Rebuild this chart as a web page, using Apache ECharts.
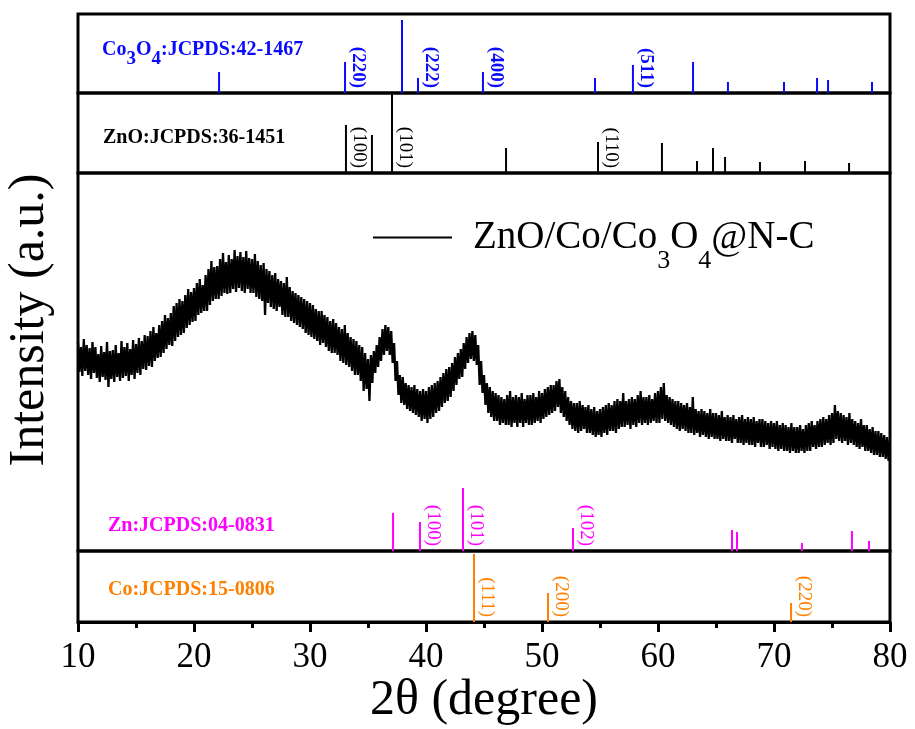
<!DOCTYPE html>
<html>
<head>
<meta charset="utf-8">
<script src="https://cdn.jsdelivr.net/npm/echarts@6/dist/echarts.min.js"></script>
<style>html,body{margin:0;padding:0;background:#fff}#c{width:915px;height:729px}</style>
</head>
<body>
<div id="c"></div>
<script>
// ---- data ----
// measured pattern, one value every 0.125° from 10° to 80°
const X_START = 10, X_STEP = 0.125;
const intensity = [
209,179,204,175,212,180,206,176, 203,172,209,178,204,173,197,169,
205,174,199,171,209,164,200,172, 201,169,206,174,198,170,210,173,
204,175,208,170,202,176,211,172, 207,178,213,176,210,182,216,181,
215,185,220,184,224,190,218,193, 226,194,230,198,236,202,233,206,
238,205,245,210,248,214,252,216, 250,218,256,223,262,226,259,229,
263,230,268,236,272,238,266,240, 276,240,282,246,290,250,284,252,
285,252,292,255,298,258,289,257, 296,258,292,262,301,259,295,263,
299,260,294,258,300,262,293,258, 292,258,297,254,290,252,286,250,
288,236,282,248,280,244,276,242, 278,240,272,244,270,236,268,234,
274,234,264,230,260,228,258,226, 256,224,254,222,252,218,250,216,
248,214,246,212,242,210,240,206, 240,208,236,204,234,200,230,198,
232,198,228,196,224,190,222,188, 226,186,218,184,214,180,212,176,
210,176,206,170,204,160,198,162, 192,150,196,168,200,178,206,184,
214,190,222,196,226,200,224,196, 220,188,208,170,190,156,176,148,
174,146,168,142,166,140,164,138, 166,136,162,134,160,130,162,132,
160,128,164,132,166,134,168,138, 170,140,174,144,178,148,182,150,
184,154,188,160,194,166,198,172, 202,174,208,182,214,188,218,192,
220,190,216,186,206,166,190,158, 176,146,168,138,164,134,160,130,
158,130,156,126,154,128,152,126, 156,126,160,124,154,128,156,124,
154,128,158,124,152,128,156,126, 156,126,158,128,154,130,160,128,
158,132,162,134,164,136,166,138, 166,140,170,144,172,138,164,134,
160,130,154,126,150,122,148,120, 148,118,150,120,146,122,144,118,
146,118,142,116,144,114,140,116, 142,114,144,118,146,116,148,120,
146,120,150,118,152,122,150,124, 158,124,150,126,152,122,154,126,
152,124,156,128,160,126,154,128, 154,126,156,128,152,130,158,128,
160,128,164,132,168,130,156,128, 154,126,152,124,150,122,150,120,
148,122,146,120,148,118,144,118, 154,116,142,118,140,114,142,116,
140,114,138,112,142,114,138,112, 138,112,136,110,140,112,134,110,
136,110,134,108,136,112,132,108, 134,108,136,106,132,108,134,106,
132,106,134,104,130,108,132,104, 132,104,130,106,128,102,130,104,
128,102,130,100,126,102,128,100, 126,100,124,98,128,100,124,98,
124,98,126,100,122,98,126,100, 128,100,130,104,126,102,130,104,
132,104,134,106,132,108,136,106, 138,108,146,112,140,110,138,108,
136,110,134,106,138,108,132,106, 130,104,128,102,132,104,126,100,
126,100,122,98,124,96,120,96, 120,94,118,94,116,92,114,90,
112
];
const sampleName = 'ZnO/Co/Co3O4@N-C';

// reference sticks: [2θ, relative height]
const co3o4Peaks = [[22.16,21],[33.02,31],[37.93,73],[39.31,15],[44.91,21],[54.57,15],[57.84,28],[63.02,31],[66.03,11],[70.86,11],[73.71,15],[74.66,13],[78.45,11]];
const znoPeaks   = [[33.10,48],[35.34,38],[37.07,79],[46.90,25],[54.83,31],[60.34,30],[63.36,12],[64.74,25],[65.78,16],[68.79,11],[72.67,12],[76.47,10]];
const znPeaks    = [[37.16,38],[39.48,29],[43.19,63],[52.67,23],[66.38,21],[66.81,19],[72.41,8],[76.72,20],[78.19,10]];
const coPeaks    = [[44.14,68],[50.52,29],[71.47,19]];

// hkl labels: [index of stick, text]
const co3o4Hkl = [[1,'(220)'],[3,'(222)'],[4,'(400)'],[6,'(511)']];
const znoHkl   = [[0,'(100)'],[2,'(101)'],[4,'(110)']];
const znHkl    = [[1,'(100)'],[2,'(101)'],[3,'(102)']];
const coHkl    = [[0,'(111)'],[1,'(200)'],[2,'(220)']];

const phaseTitles = ['{a|Co}{s|3}{a|O}{s|4}{a|:JCPDS:42-1467}', 'ZnO:JCPDS:36-1451', 'Zn:JCPDS:04-0831', 'Co:JCPDS:15-0806'];
const xTitle = '2θ (degree)';
const yTitle = 'Intensity (a.u.)';

// ---- chart ----
const FONT = '"Liberation Serif","Times New Roman",serif';
const BLUE = '#0a0aff', BLACK = '#000', MAGENTA = '#ff00ff', ORANGE = '#ff8000';

function stickSeries(peaks, color, gi) {
  return {
    type: 'custom', xAxisIndex: gi, yAxisIndex: gi, silent: true,
    data: peaks.map(p => [p[0], p[1]]),
    renderItem: function (params, api) {
      const a = api.coord([api.value(0), 0]);
      const b = api.coord([api.value(0), api.value(1)]);
      return { type: 'line', shape: { x1: a[0], y1: a[1], x2: b[0], y2: b[1] },
               style: { stroke: color, lineWidth: 2 } };
    }
  };
}
function hklSeries(peaks, hkl, color, gi, bold) {
  return {
    type: 'custom', xAxisIndex: gi, yAxisIndex: gi, silent: true,
    data: hkl.map(h => [peaks[h[0]][0], 0]),
    renderItem: function (params, api) {
      const a = api.coord([api.value(0), 0]);
      return { type: 'text', x: a[0] + 13, y: a[1] - 5, rotation: -Math.PI / 2,
               style: { text: hkl[params.dataIndex][1], fill: color, fontSize: 19,
                        fontFamily: FONT, fontWeight: bold ? 'bold' : 'normal',
                        align: 'right', verticalAlign: 'middle' } };
    }
  };
}

const grids = [[14, 79], [93, 80], [173, 378], [551, 71]];
const yMax = [79, 80, 378, 71];

const option = {
  animation: false,
  backgroundColor: '#fff',
  grid: grids.map(g => ({ left: 78, right: 25, top: g[0], height: g[1], show: true,
                          borderColor: '#000', borderWidth: 3, backgroundColor: 'transparent' })),
  xAxis: grids.map((g, i) => {
    const base = { type: 'value', gridIndex: i, min: 10, max: 80, interval: 10, splitLine: { show: false } };
    if (i < 3) return Object.assign(base, { show: false });
    return Object.assign(base, {
      axisLine: { lineStyle: { color: '#000', width: 3 } },
      axisTick: { inside: false, length: 10, lineStyle: { color: '#000', width: 3 } },
      minorTick: { show: true, splitNumber: 2, length: 6, lineStyle: { color: '#000', width: 3 } },
      axisLabel: { color: '#000', fontFamily: FONT, fontSize: 35, margin: 18 },
      name: xTitle, nameLocation: 'middle', nameGap: 54,
      nameTextStyle: { color: '#000', fontFamily: FONT, fontSize: 50 }
    });
  }),
  yAxis: grids.map((g, i) => ({ type: 'value', gridIndex: i, min: 0, max: yMax[i], show: false })),
  legend: {
    left: 373, top: 218, padding: 0, icon: 'rect', itemWidth: 79, itemHeight: 2,
    data: [sampleName], selectedMode: false,
    formatter: () => '{g| }{a|ZnO/Co/Co}{s|3}{a|O}{s|4}{a|@N-C}',
    textStyle: {
      color: '#000', fontFamily: FONT,
      rich: {
        g: { width: 16, fontSize: 39, lineHeight: 73 },
        a: { fontSize: 39, fontFamily: FONT, color: '#000', lineHeight: 73 },
        s: { fontSize: 26, fontFamily: FONT, color: '#000', verticalAlign: 'bottom' }
      }
    }
  },
  graphic: [
    { type: 'text', x: 30, y: 320, rotation: Math.PI / 2, silent: true,
      style: { text: yTitle, fill: '#000', fontFamily: FONT, fontSize: 50, align: 'center', verticalAlign: 'middle' } },
    { type: 'text', x: 102, y: 50, silent: true,
      style: { text: phaseTitles[0], verticalAlign: 'middle', fill: BLUE,
               rich: { a: { fontSize: 20, fontWeight: 'bold', fontFamily: FONT, fill: BLUE, lineHeight: 38 },
                       s: { fontSize: 19, fontWeight: 'bold', fontFamily: FONT, fill: BLUE, verticalAlign: 'bottom' } } } },
    { type: 'text', x: 103, y: 138, silent: true,
      style: { text: phaseTitles[1], fill: BLACK, fontFamily: FONT, fontSize: 20, fontWeight: 'bold', verticalAlign: 'middle' } },
    { type: 'text', x: 108, y: 526, silent: true,
      style: { text: phaseTitles[2], fill: MAGENTA, fontFamily: FONT, fontSize: 20, fontWeight: 'bold', verticalAlign: 'middle' } },
    { type: 'text', x: 108, y: 590, silent: true,
      style: { text: phaseTitles[3], fill: ORANGE, fontFamily: FONT, fontSize: 20, fontWeight: 'bold', verticalAlign: 'middle' } }
  ],
  series: [
    { name: sampleName, type: 'line', xAxisIndex: 2, yAxisIndex: 2, showSymbol: false, symbol: 'none',
      sampling: false,
      data: intensity.map((v, i) => [X_START + i * X_STEP, v]),
      lineStyle: { color: '#000', width: 2.3 }, itemStyle: { color: '#000' } },
    stickSeries(co3o4Peaks, BLUE, 0),
    stickSeries(znoPeaks, BLACK, 1),
    stickSeries(znPeaks, MAGENTA, 2),
    stickSeries(coPeaks, ORANGE, 3),
    hklSeries(co3o4Peaks, co3o4Hkl, BLUE, 0, true),
    hklSeries(znoPeaks, znoHkl, BLACK, 1, false),
    hklSeries(znPeaks, znHkl, MAGENTA, 2, false),
    hklSeries(coPeaks, coHkl, ORANGE, 3, false)
  ]
};
const chart = echarts.init(document.getElementById('c'));
chart.setOption(option);
</script>
</body>
</html>
